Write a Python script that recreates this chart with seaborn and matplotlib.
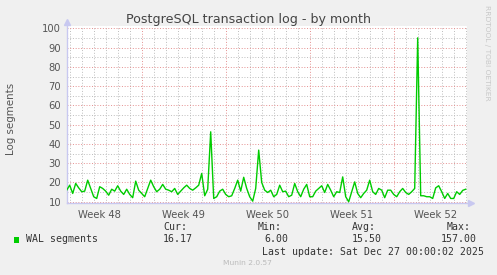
import numpy as np
import pandas as pd
import matplotlib
matplotlib.use("Agg")
import matplotlib.pyplot as plt
from matplotlib.patches import Rectangle
import seaborn as sns

# ---------------- data ----------------
# WAL segments, one sample every 6 hours starting at the left edge of the plot
wal_segments = [
    16, 18.6, 14.3, 19.5, 17.2, 15.2, 15.5, 21.2, 16.9, 12.6,
    11.7, 17.8, 16.9, 15.5, 13.4, 16.5, 15.5, 18.3, 15.5, 13.8,
    16.5, 13.8, 12.1, 20.7, 16, 14.3, 12.6, 16.9, 21.2, 17.8,
    15.2, 16.5, 19, 16.5, 16, 15.2, 16.9, 13.8, 15.5, 17.2,
    18.6, 16.9, 16, 17.2, 18.6, 24.7, 13.1, 16.5, 46.3, 11.7,
    12.6, 15.5, 16.5, 13.8, 12.6, 13.1, 16.9, 21.2, 15.5, 22.7,
    16.9, 12.6, 10.3, 16.9, 36.8, 20, 16, 14.8, 16, 12.6,
    13.8, 18.6, 15.2, 15.5, 12.6, 13.4, 19.5, 15.2, 12.6, 16.5,
    19, 12.6, 12.6, 15.5, 16.9, 18.3, 14.8, 19, 16, 12.6,
    15.2, 14.8, 22.9, 12.6, 10, 15.2, 20.3, 14.3, 12.1, 14.3,
    16, 21.2, 15.2, 13.8, 16.9, 16, 12.1, 16, 16, 13.8,
    12.6, 15.2, 16.9, 14.8, 13.8, 15.2, 16.9, 95.1, 13.1, 13.1,
    12.6, 12.6, 11.7, 17.2, 18.3, 15.2, 11.7, 14.3, 11.7, 11.7,
    15.2, 13.8, 15.9, 16.5,
]
sample_step_days = 0.25
week_labels = ["Week 48", "Week 49", "Week 50", "Week 51", "Week 52"]
y_ticks = [10, 20, 30, 40, 50, 60, 70, 80, 90, 100]
series_name = "WAL segments"
stat_names = ["Cur:", "Min:", "Avg:", "Max:"]
stat_values = ["16.17", "6.00", "15.50", "157.00"]
title = "PostgreSQL transaction log - by month"
y_label = "Log segments"
last_update = "Last update: Sat Dec 27 00:00:02 2025"
credit = "RRDTOOL / TOBI OETIKER"
version = "Munin 2.0.57"

# ---------------- figure ----------------
W, H = 497, 275
fig = plt.figure(figsize=(W / 100, H / 100), dpi=100, facecolor="#F0F0F0")

ax_left, ax_right = 66.7, 467.3
ax_top, ax_bottom = 25.5, 202.7
ax = fig.add_axes([ax_left / W, 1 - ax_bottom / H,
                   (ax_right - ax_left) / W, (ax_bottom - ax_top) / H])
ax.set_facecolor("white")

df = pd.DataFrame({
    "day": np.arange(len(wal_segments)) * sample_step_days,
    "wal": wal_segments,
})

x_max = (ax_right - ax_left) / 12.0  # 12 px per day
ax.set_xlim(0, x_max)
ax.set_ylim(9.5, 101.5)

# grid
minor_col = "#BDBDBD"
major_col = "#E49090"
first_week = 6.25
day_lines = np.arange(first_week % 1, x_max, 1.0)
week_lines = np.arange(first_week, x_max, 7.0)
for d in day_lines:
    if not np.any(np.isclose(d, week_lines)):
        ax.axvline(d, color=minor_col, lw=0.7, ls=(0, (1, 1.8)), zorder=1)
for d in week_lines:
    ax.axvline(d, color=major_col, lw=0.7, ls=(0, (1, 1.8)), zorder=1.5)
for v in np.arange(15, 100, 10):
    ax.axhline(v, color=minor_col, lw=0.7, ls=(0, (1, 1.8)), zorder=1)
for v in y_ticks:
    ax.axhline(v, color=major_col, lw=0.7, ls=(0, (1, 1.8)), zorder=1.5)

sns.lineplot(data=df, x="day", y="wal", ax=ax, color="#00CC00",
             linewidth=1.0, zorder=3)

# ticks / labels
label_pos = week_lines - 3.5
label_pos = np.append(label_pos, week_lines[-1] + 3.5)
ax.set_xticks(label_pos[:len(week_labels)])
ax.set_xticklabels(week_labels)
ax.set_yticks(y_ticks)
ax.set_yticklabels([str(v) for v in y_ticks])
ax.tick_params(axis="both", length=0, labelsize=7.2, labelcolor="#555555")
ax.tick_params(axis="x", pad=5)
ax.tick_params(axis="y", pad=4)
ax.set_xlabel("")
ax.set_ylabel("")

for s in ["top", "right"]:
    ax.spines[s].set_visible(False)
for s in ["left", "bottom"]:
    ax.spines[s].set_color("#C8C8F0")
    ax.spines[s].set_linewidth(1.0)

# axis arrows
ax.plot([0], [1.02], marker="^", color="#C8C8F0", ms=4,
        transform=ax.transAxes, clip_on=False)
ax.plot([1.008], [0], marker=">", color="#C8C8F0", ms=4,
        transform=ax.transAxes, clip_on=False)

# texts
def fx(px):
    return px / W

def fy(py):
    return 1 - py / H

fig.text(fx(248.5), fy(19.3), title, ha="center", va="center",
         fontsize=9.1, color="#444444")
fig.text(fx(11), fy(119), y_label, ha="center", va="center",
         rotation=90, fontsize=7.4, color="#555555")
fig.text(fx(487), fy(5), credit, ha="center", va="top",
         rotation=-90, fontsize=5.4, color="#C8C8C8")

mono = dict(family="DejaVu Sans Mono", fontsize=7.1, color="#333333",
            va="center")
fig.patches.append(Rectangle((fx(14), fy(242.7)), 5.3 / W, 5.4 / H,
                             transform=fig.transFigure,
                             facecolor="#00CC00", edgecolor="none"))
fig.text(fx(26), fy(239.3), series_name, ha="left", **mono)
name_x = [163, 258, 352, 447]
value_x = [163, 264, 352, 441]
for nm, vl, nx, vx in zip(stat_names, stat_values, name_x, value_x):
    fig.text(fx(nx), fy(227), nm, ha="left", **mono)
    fig.text(fx(vx), fy(239.3), vl, ha="left", **mono)
fig.text(fx(262), fy(251.7), last_update, ha="left", **mono)
fig.text(fx(247.5), fy(263.3), version, ha="center", va="center",
         fontsize=5.4, color="#BBBBBB")

fig.savefig("out.png", dpi=100, facecolor=fig.get_facecolor())
